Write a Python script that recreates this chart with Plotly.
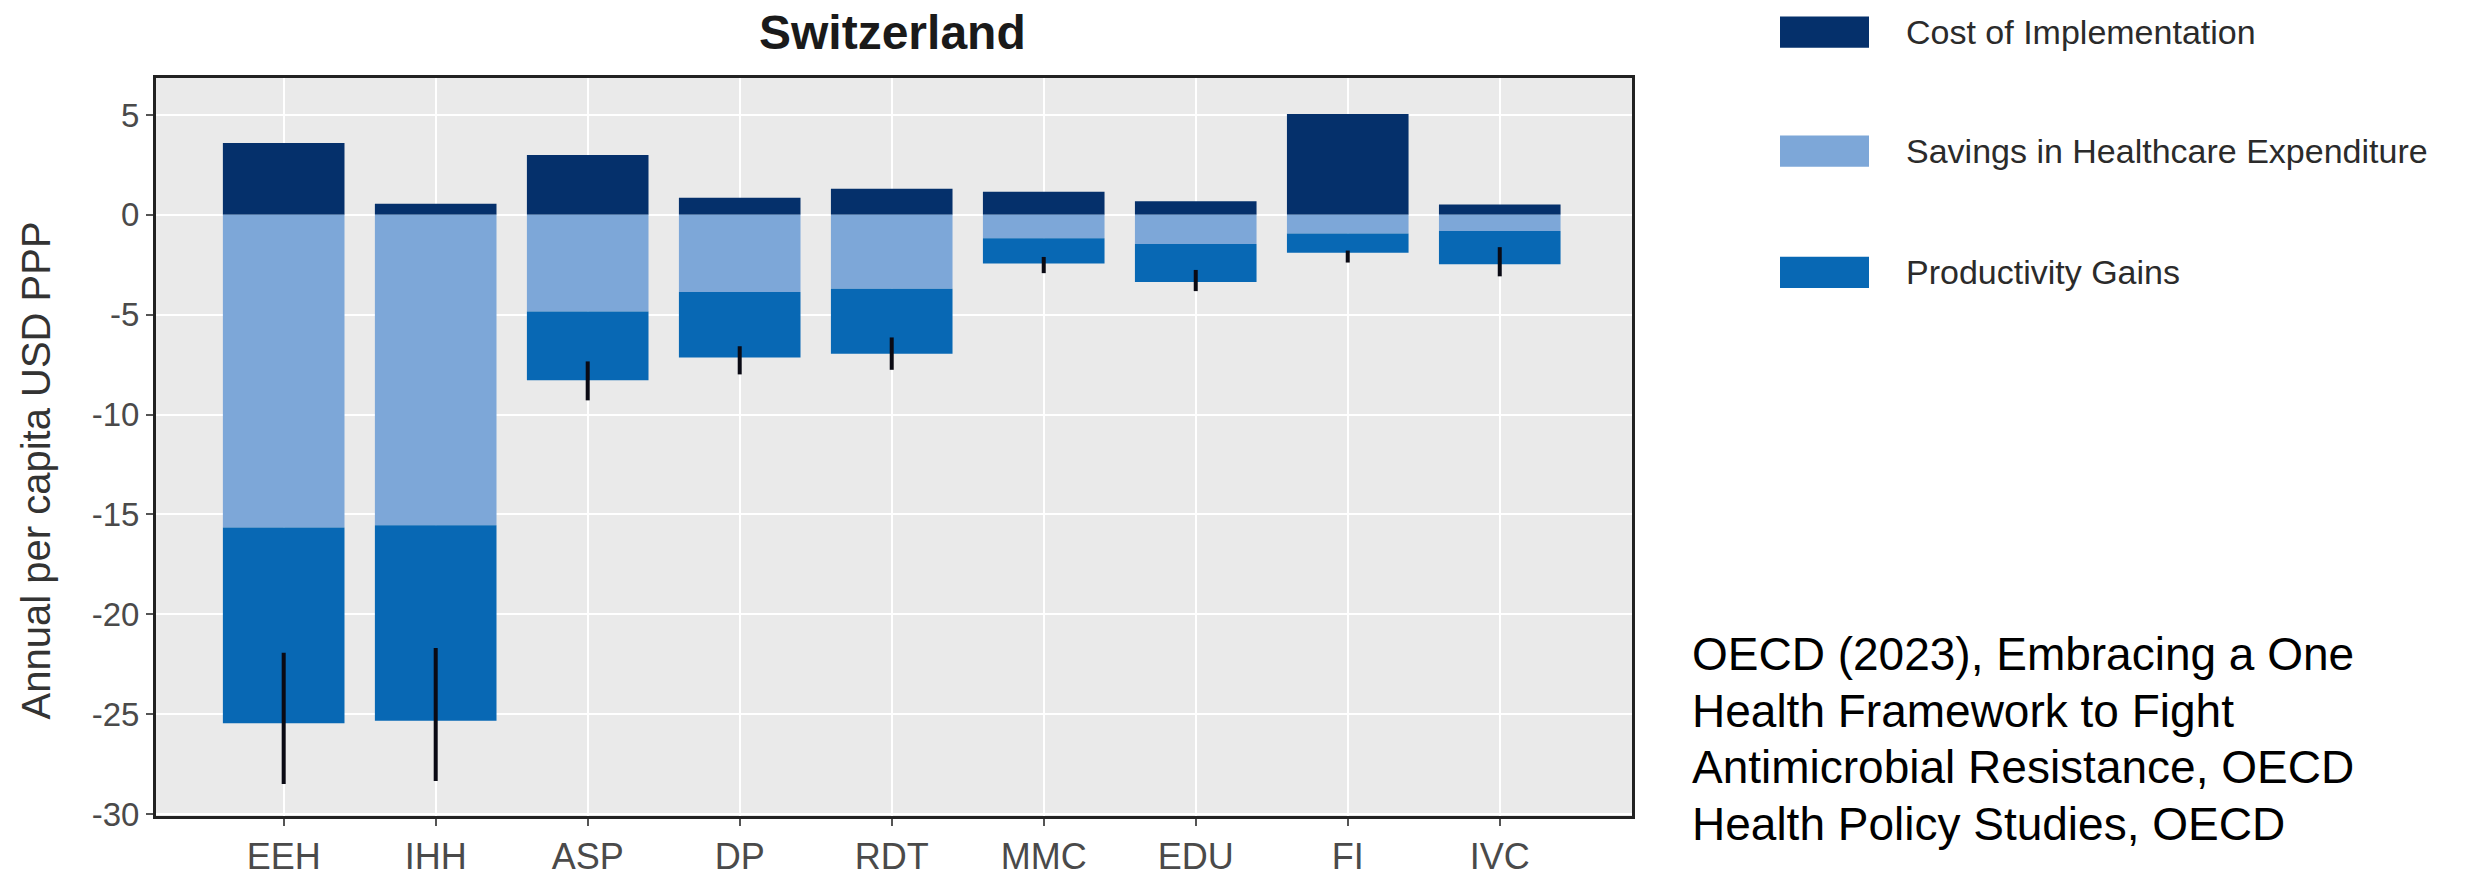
import plotly.graph_objects as go

# Interventions and per-capita components (USD PPP per year)
categories = ["EEH", "IHH", "ASP", "DP", "RDT", "MMC", "EDU", "FI", "IVC"]
cost_of_implementation = [3.60, 0.56, 3.00, 0.85, 1.30, 1.15, 0.68, 5.05, 0.52]
savings_in_healthcare = [-15.65, -15.54, -4.84, -3.86, -3.70, -1.17, -1.46, -0.93, -0.81]
productivity_gains = [-9.80, -9.79, -3.44, -3.29, -3.25, -1.27, -1.90, -0.97, -1.66]

# Uncertainty interval around the total benefit (savings + productivity)
interval_low = [-28.50, -28.35, -9.29, -7.99, -7.76, -2.92, -3.82, -2.39, -3.08]
interval_high = [-21.93, -21.69, -7.34, -6.58, -6.14, -2.11, -2.76, -1.79, -1.62]

series_names = ["Cost of Implementation", "Savings in Healthcare Expenditure", "Productivity Gains"]
series_colors = ["#05306B", "#7DA7D8", "#0868B4"]

y_ticks = [-30, -25, -20, -15, -10, -5, 0, 5]

FONT = "Liberation Sans, Arial, sans-serif"
W, H = 2478, 889
L, R, T, B = 156, 846, 78, 55

total_benefit = [s + p for s, p in zip(savings_in_healthcare, productivity_gains)]
err_plus = [hi - t for hi, t in zip(interval_high, total_benefit)]
err_minus = [t - lo for lo, t in zip(interval_low, total_benefit)]

fig = go.Figure()
fig.add_trace(go.Bar(x=categories, y=cost_of_implementation, name=series_names[0],
                     marker=dict(color=series_colors[0], line=dict(width=0)), showlegend=False))
fig.add_trace(go.Bar(x=categories, y=savings_in_healthcare, name=series_names[1],
                     marker=dict(color=series_colors[1], line=dict(width=0)), showlegend=False))
fig.add_trace(go.Bar(x=categories, y=productivity_gains, name=series_names[2],
                     marker=dict(color=series_colors[2], line=dict(width=0)), showlegend=False,
                     error_y=dict(type="data", symmetric=False, array=err_plus, arrayminus=err_minus,
                                  color="#0a0a14", thickness=4, width=0)))

fig.update_layout(
    width=W, height=H, autosize=False,
    margin=dict(l=L, r=R, t=T, b=B, pad=0),
    barmode="relative", bargap=0.2,
    paper_bgcolor="white", plot_bgcolor="#EAEAEA",
    font=dict(family=FONT, color="#333333"),
)

fig.update_xaxes(
    range=[-0.84, 8.87], showgrid=True, gridcolor="white", gridwidth=2,
    ticks="outside", ticklen=7, tickwidth=2, tickcolor="#555555",
    tickfont=dict(size=36, color="#4a4a4a", family=FONT),
    showline=True, linecolor="#222222", linewidth=3, mirror=True,
    zeroline=False,
)
fig.update_yaxes(
    range=[-30.1, 6.85], tickvals=y_ticks, ticktext=[str(v) for v in y_ticks],
    showgrid=True, gridcolor="white", gridwidth=2,
    ticks="outside", ticklen=7, tickwidth=2, tickcolor="#555555",
    tickfont=dict(size=33, color="#4a4a4a", family=FONT),
    showline=True, linecolor="#222222", linewidth=3, mirror=True,
    zeroline=False,
)

def px_x(px):
    return (px - L) / (W - L - R)

def px_y(py):
    return (H - B - py) / (H - T - B)

annotations = [
    dict(text="<b>Switzerland</b>", x=px_x(892), y=px_y(31), xref="paper", yref="paper",
         xanchor="center", yanchor="middle", showarrow=False,
         font=dict(size=48, color="#1a1a1a", family=FONT)),
    dict(text="Annual per capita USD PPP", x=px_x(36), y=px_y(480), xref="paper", yref="paper",
         xanchor="center", yanchor="middle", textangle=-90, showarrow=False,
         font=dict(size=40, color="#333333", family=FONT)),
]

shapes = []
legend_rows = [31, 153, 277]
for name, color, cy in zip(series_names, series_colors, legend_rows):
    shapes.append(dict(type="rect", xref="paper", yref="paper",
                       x0=px_x(1780), x1=px_x(1869), y0=px_y(cy + 16), y1=px_y(cy - 16),
                       fillcolor=color, line=dict(width=0), layer="above"))
    annotations.append(dict(text=name, x=px_x(1904), y=px_y(cy), xref="paper", yref="paper",
                            xanchor="left", yanchor="middle", showarrow=False,
                            font=dict(size=34, color="#2b2b2b", family=FONT)))

citation_lines = [
    "OECD (2023), Embracing a One",
    "Health Framework to Fight",
    "Antimicrobial Resistance, OECD",
    "Health Policy Studies, OECD",
]
for i, line in enumerate(citation_lines):
    annotations.append(dict(text=line, x=px_x(1690), y=px_y(668 + i * 58), xref="paper", yref="paper",
                            xanchor="left", yanchor="middle", showarrow=False,
                            font=dict(size=46, color="#000000", family=FONT)))

fig.update_layout(annotations=annotations, shapes=shapes)

fig.write_html("out.html")
